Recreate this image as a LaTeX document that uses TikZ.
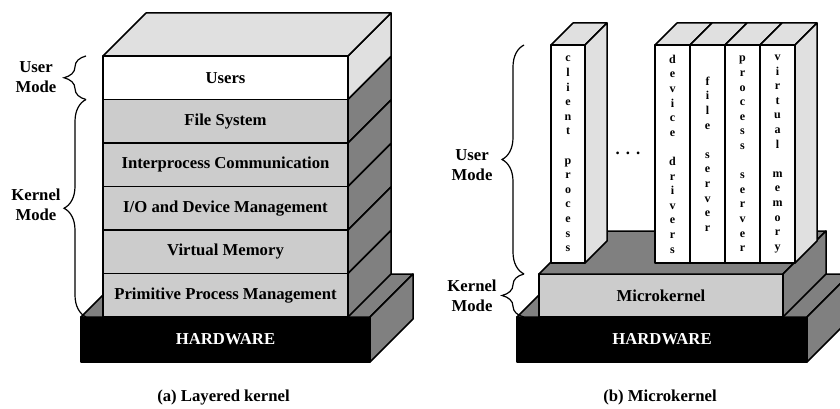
\documentclass[tikz,border=0pt]{standalone}
\usepackage{fontspec}
\setmainfont{Liberation Serif}
\usepackage{xcolor}
\usepackage{tikz}
\usetikzlibrary{decorations.pathreplacing}

\definecolor{facelight}{gray}{0.88}
\definecolor{facemid}{gray}{0.8}
\definecolor{facedark}{gray}{0.5}

\newcommand{\labelfont}{\bfseries\fontsize{16.7}{20}\selectfont}
\newcommand{\letterfont}{\bfseries\fontsize{12}{14.6}\selectfont}

\begin{document}
\begin{tikzpicture}[
  x=1pt,
  y=1pt,
  face/.style={draw=black, line width=1.5pt, line join=round},
  layer/.style={
    face,
    fill=facemid,
    rectangle,
    inner sep=0pt,
    outer sep=0pt,
    minimum width=245pt,
    minimum height=43.5pt,
    font=\labelfont,
  },
  hwbox/.style={
    face,
    fill=black,
    text=white,
    rectangle,
    inner sep=0pt,
    outer sep=0pt,
    minimum width=290pt,
    minimum height=45pt,
    font=\labelfont,
  },
  column/.style={
    face,
    fill=white,
    rectangle,
    inner sep=0pt,
    outer sep=0pt,
    minimum width=35pt,
    minimum height=218pt,
    align=center,
    font=\letterfont,
  },
  modebrace/.style={
    draw=black,
    line width=1.2pt,
    decorate,
    decoration={brace, amplitude=22pt},
  },
  modelabel/.style={align=center, font=\labelfont},
]
  \useasboundingbox (0,0) rectangle (840,408);
  \clip (0,0) rectangle (840,408);

  % (a) layered kernel
  \node[hwbox, minimum width=289pt] (hwA) at (225.5,68.5) {HARDWARE};
  \draw[face, fill=facedark] (hwA.north west) -- ++(43,43) -- ++(289,0) -- (hwA.north east) -- cycle;
  \draw[face, fill=facedark] (hwA.north east) -- ++(43,43) -- ++(0,-45) -- (hwA.south east) -- cycle;

  \node[layer, fill=white] (users) at (225.5,330.25) {Users};
  \foreach \layername/\lbl [count=\i] in {filesys/File System, ipc/Interprocess Communication, iodev/{I/O and Device Management}, virtmem/Virtual Memory, primproc/Primitive Process Management}
    \node[layer] (\layername) at (225.5,330.25-43.5*\i) {\lbl};

  \draw[face, fill=facelight] (users.north east) -- ++(43,43) -- ++(0,-43.5) -- (users.south east) -- cycle;
  \foreach \layername in {filesys, ipc, iodev, virtmem, primproc}
    \draw[face, fill=facedark] (\layername.north east) -- ++(43,43) -- ++(0,-43.5) -- (\layername.south east) -- cycle;
  \draw[face, fill=facelight] (users.north west) -- ++(43,43) -- ++(245,0) -- (users.north east) -- cycle;

  \node[modelabel] (userA) at (36,330.5) {User\\Mode};
  \node[modelabel] (kernelA) at (36,203) {Kernel\\Mode};
  \draw[modebrace] ([xshift=-17pt]users.south west) -- ([xshift=-17pt]users.north west);
  \draw[modebrace] ([xshift=-17pt]primproc.south west) -- ([xshift=-17pt]filesys.north west);

  \node[font=\labelfont, anchor=base] (capA) at (223.5,7) {(a) Layered kernel};

  % (b) microkernel
  \node[hwbox] (hwB) at (662,68.5) {HARDWARE};
  \draw[face, fill=facedark] (hwB.north west) -- ++(43,43) -- ++(290,0) -- (hwB.north east) -- cycle;
  \draw[face, fill=facedark] (hwB.north east) -- ++(43,43) -- ++(0,-45) -- (hwB.south east) -- cycle;

  \node[layer, minimum width=244pt, minimum height=43pt] (micro) at (661,112.5) {Microkernel};
  \draw[face, fill=facedark] (micro.north west) -- ++(43,43) -- ++(244,0) -- (micro.north east) -- cycle;
  \draw[face, fill=facedark] (micro.north east) -- ++(43,43) -- ++(0,-43) -- (micro.south east) -- cycle;

  \node[column, minimum width=34pt] (client) at (568,254) {c\\l\\i\\e\\n\\t\\[14.6pt]p\\r\\o\\c\\e\\s\\s};
  \node[column] (devdrv) at (672.5,254) {d\\e\\v\\i\\c\\e\\[14.6pt]d\\r\\i\\v\\e\\r\\s};
  \node[column] (filesrv) at (707.5,254) {f\\i\\l\\e\\[14.6pt]s\\e\\r\\v\\e\\r};
  \node[column] (procsrv) at (742.5,254) {p\\r\\o\\c\\e\\s\\s\\[14.6pt]s\\e\\r\\v\\e\\r};
  \node[column] (vmsrv) at (777.5,254) {v\\i\\r\\t\\u\\a\\l\\[14.6pt]m\\e\\m\\o\\r\\y};

  \foreach \col in {client, devdrv, filesrv, procsrv, vmsrv}
    \draw[face, fill=facelight] (\col.north west) -- ++(22,22) -- ([shift={(22,22)}]\col.north east) -- (\col.north east) -- cycle;
  \foreach \col in {client, vmsrv}
    \draw[face, fill=facelight] (\col.north east) -- ++(22,22) -- ([shift={(22,22)}]\col.south east) -- (\col.south east) -- cycle;

  \node[font=\labelfont] (dots) at (628,255) {.\hspace{6pt}.\hspace{6pt}.};

  \node[modelabel] (userB) at (472,243) {User\\Mode};
  \node[modelabel] (kernelB) at (472,112) {Kernel\\Mode};
  \draw[modebrace] ([xshift=-15pt]micro.north west) -- ([xshift=-27pt]client.north west);
  \draw[modebrace] ([xshift=-15pt]micro.south west) -- ([xshift=-15pt]micro.north west);

  \node[font=\labelfont, anchor=base] (capB) at (660,7) {(b) Microkernel};
\end{tikzpicture}
\end{document}
